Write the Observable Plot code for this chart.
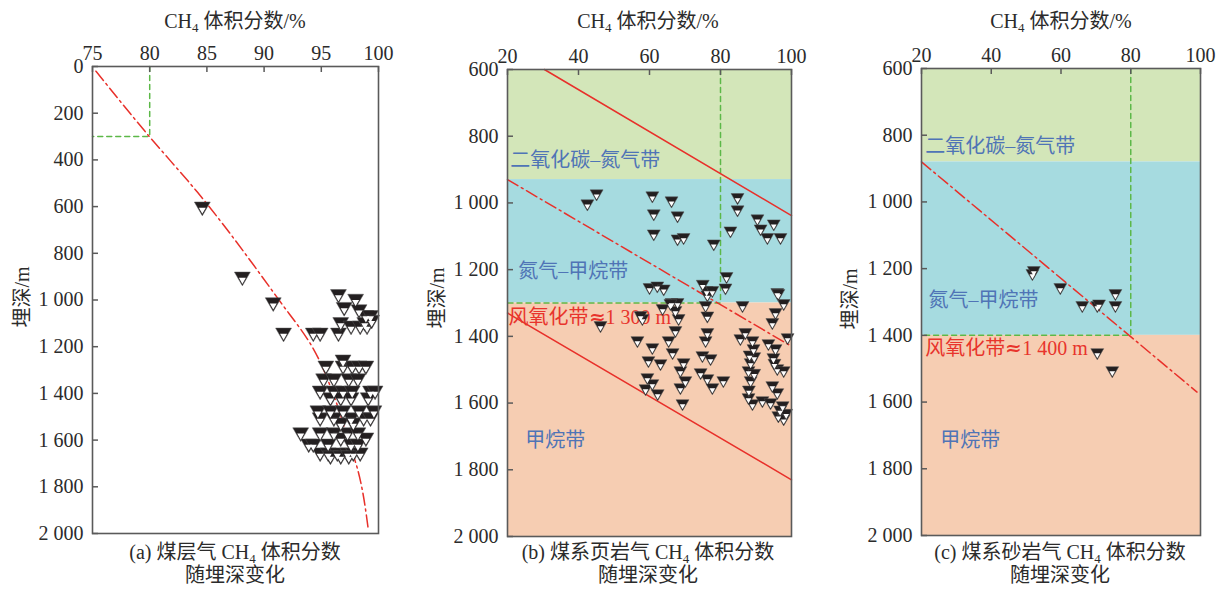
<!DOCTYPE html>
<html><head><meta charset="utf-8">
<script src="https://cdn.jsdelivr.net/npm/d3@7"></script>
<script src="https://cdn.jsdelivr.net/npm/@observablehq/plot@0.6"></script>
<style>
@font-face{font-family:"ApproxGlyph";src:local("DejaVu Sans"),local("DejaVuSans");unicode-range:U+2248;}
body{margin:0;background:#fff;}
#wrap{position:relative;width:1221px;height:590px;font-family:"Liberation Serif","Noto Sans CJK SC",serif;color:#2b2b2b;}
.p{position:absolute;top:0;}
.lab{position:absolute;font-size:20px;white-space:nowrap;transform:translateX(-50%);text-align:center;line-height:23px;}
.ylab{position:absolute;font-size:20px;white-space:nowrap;transform:translate(-50%,-50%) rotate(-90deg);}
sub{font-size:13px;vertical-align:-4px;line-height:0;}
</style></head>
<body><div id="wrap"></div>
<script>
// ---------- DATA ----------
// (a) coal-bed gas
const coalCH4 = [84.6,88.1,90.8,91.7,94.3,94.9,96.5,96.5,98.0,97.0,98.3,98.9,99.3,96.7,97.6,98.4,99.0,98.8,99.4,
  95.4,96.9,97.7,98.3,98.9,96.9,
  95.2,96.1,97.4,98.2,
  94.9,96.1,96.9,97.7,99.3,99.7,
  95.8,96.7,97.6,99.1,
  94.7,95.8,96.9,98.3,99.6,
  94.9,96.1,97.6,98.7,99.3,
  96.7,97.8,
  93.2,94.9,96.1,97.3,98.2,
  96.7,98.9,
  93.9,94.3,95.6,97.6,98.2,
  94.9,95.6,96.4,97.3,97.8,98.4,
  95.8,96.7,97.4];
const coalDepth = [600,900,1010,1140,1140,1140,1140,975,995,1030,1040,1065,1065,1095,1110,1110,1110,1095,1085,
  1281,1281,1281,1281,1281,1255,
  1336,1336,1336,1336,
  1388,1388,1388,1388,1388,1388,
  1417,1417,1417,1417,
  1473,1473,1473,1473,1473,
  1503,1503,1503,1503,1503,
  1525,1525,
  1567,1567,1567,1567,1567,
  1589,1589,
  1615,1615,1615,1615,1615,
  1653,1653,1653,1653,1653,1653,
  1666,1666,1666];
const coalTrendCH4 = [75.3,79.8,84.2,91.3,94.2,96.1,97.3,98.2,99.1];
const coalTrendDepth = [20,290,540,1000,1200,1410,1590,1730,1980];

// (b) coal-measure shale gas
const shaleCH4 = [42.5,45.1,60.8,61.2,61.2,66.2,67.9,67.9,69.6,78.1,84.8,84.8,82.8,90.4,91.3,93.2,95,96.9,
  81.7,81.4,60,62.2,64,75,76.1,77.7,96,
  66.2,67.9,76.3,86.2,97.8,
  65.9,63.7,67.3,68.2,58,67.3,56.6,60.8,65.4,66.5,59.7,63.1,69.6,68.7,59.4,60.8,58.9,62.3,70.1,68.7,69.3,
  76.3,75.8,74.9,77.2,74.4,76.3,77.7,80.8,76.3,75.8,
  85.6,87,89,89.3,88.5,87.9,88.5,87.9,89,91.8,94.1,
  93.5,95.5,94.9,96,97.8,94.6,96,97.5,96.3,97.8,98.9,94.6,95.5,96.3,
  46.2,57.5,89.5,88.2,95.2,96.8,98.5,89.5,88];
const shaleDepth = [1002,972,978,1032,1092,993,1038,1107,1103,1122,983,1020,1083,1047,1077,1103,1062,1103,
  1220,1254,1253,1248,1257,1243,1262,1262,1268,
  1298,1298,1275,1307,1301,
  1301,1316,1322,1346,1346,1382,1412,1433,1412,1448,1472,1481,1478,1502,1523,1541,1556,1571,1532,1553,1601,
  1388,1412,1457,1466,1508,1526,1553,1532,1338,1307,
  1406,1388,1412,1436,1478,1502,1532,1583,1601,1592,1598,
  1421,1436,1463,1496,1502,1547,1568,1607,1637,1646,1403,1358,1328,1271,
  1367,1337,1460,1455,1480,1620,1630,1510,1560];

// (c) coal-measure sandstone gas
const sandCH4 = [51.8,52.2,59.8,66.1,70.4,70.9,75.6,75.6,70.4,74.7];
const sandDepth = [1214,1205,1256,1310,1310,1305,1274,1310,1451,1505];

// zone boundaries (depth, m)
const zoneNames = ["二氧化碳–氮气带","氮气–甲烷带","甲烷带"];
const zoneColors = ["#d3e6b9","#a6dbe0","#f6cdb2"];
const shaleZoneTop = [600,930,1300];
const shaleZoneBottom = [930,1300,2000];
const sandZoneTop = [600,880,1400];
const sandZoneBottom = [880,1400,2000];

// reference lines (b)
const shaleUpperLine = {x:[30.4,100], y:[600,1038]};
const shaleLowerLine = {x:[20,100], y:[1330,1830]};
const shaleTrend = {x:[20,100], y:[930,1430]};
// reference lines (c)
const sandTrend = {x:[20,99], y:[880,1570]};

// ticks
const xTicksA = [75,80,85,90,95,100];
const yTicksA = [0,200,400,600,800,1000,1200,1400,1600,1800,2000];
const xTicksBC = [20,40,60,80,100];
const yTicksBC = [600,800,1000,1200,1400,1600,1800,2000];

// annotations
const shaleLabels = [
  {t:"二氧化碳–氮气带", x:20.8, y:873, c:"#4f74b6"},
  {t:"氮气–甲烷带", x:23, y:1207, c:"#4f74b6"},
  {t:"风氧化带≈1 300 m", x:20.3, y:1344, c:"#e8342c"},
  {t:"甲烷带", x:25, y:1713, c:"#4f74b6"}];
const sandLabels = [
  {t:"二氧化碳–氮气带", x:21.1, y:835, c:"#4f74b6"},
  {t:"氮气–甲烷带", x:22, y:1295, c:"#4f74b6"},
  {t:"风氧化带≈1 400 m", x:21.1, y:1439, c:"#e8342c"},
  {t:"甲烷带", x:25.4, y:1715, c:"#4f74b6"}];

// ---------- helpers ----------
const FONT = '"Liberation Serif","Noto Sans CJK SC",serif';
const LFONT = '"ApproxGlyph","Liberation Serif","Noto Sans CJK SC",serif';
const RED = "#e8302a", GREEN = "#5cb848", INK = "#231f20", FRAME = "#5a5a5a", TXT = "#2b2b2b";
const invTri = {draw(ctx, size){ const y = Math.sqrt(size/(Math.sqrt(3)*3)), s3 = Math.sqrt(3);
  ctx.moveTo(0, 2*y); ctx.lineTo(-s3*y, -y); ctx.lineTo(s3*y, -y); ctx.closePath(); }};
const fmtDepth = d => d >= 1000 ? `${Math.floor(d/1000)} ${String(d%1000).padStart(3,"0")}` : String(d);
const pts = (xs, ys) => xs.map((x,i)=>({x, y: ys[i]}));
const seg = o => o.x.map((x,i)=>({x, y:o.y[i]}));

function panel({left, width, mL, mR, mT, mB, xDomain, yDomain, xTicks, yTicks, marks, r, ri, rdy}) {
  const height = 590, pw = width - mL - mR, ph = height - mT - mB;
  const data = marks.points;
  const plot = Plot.plot({
    width, height, marginLeft: mL, marginRight: mR, marginTop: mT, marginBottom: mB,
    style: {fontFamily: FONT, background: "transparent", overflow: "visible"},
    x: {domain: xDomain}, y: {domain: yDomain, reverse: true},
    marks: [
      ...(marks.under || []),
      Plot.dot(data, {x:"x", y:"y", symbol: invTri, r, fill: INK, stroke: "#555", strokeWidth: 0.5}),
      Plot.dot(data, {x:"x", y:"y", symbol: invTri, r: ri, dy: rdy, fill: "#fff", stroke: "none"}),
      Plot.tickY(yTicks, {y: d=>d, stroke: FRAME, strokeWidth: 1.5, insetRight: pw - 6}),
      Plot.tickX(xTicks, {x: d=>d, stroke: FRAME, strokeWidth: 1.5, insetBottom: ph - 6}),
      Plot.frame({stroke: FRAME, strokeWidth: 1.6}),
      Plot.axisX(xTicks, {anchor: "top", tickSize: 0, tickPadding: 7, fontSize: 20, fill: TXT, label: null}),
      Plot.axisY(yTicks, {anchor: "left", tickSize: 0, tickPadding: 9, fontSize: 20, fill: TXT, label: null, tickFormat: fmtDepth})
    ]
  });
  plot.classList.add("p");
  plot.style.left = left + "px";
  return plot;
}

const wrap = document.getElementById("wrap");
const dd = "5,4", dashDot = "12,4,2,4";

// (a)
wrap.append(panel({left:0, width:400, mL:92, mR:22, mT:66, mB:57, xDomain:[75,100], yDomain:[0,2000],
  xTicks:xTicksA, yTicks:yTicksA, r:5.9, ri:2.6, rdy:3.2,
  marks:{points: pts(coalCH4, coalDepth),
    under:[
      Plot.line([{x:80,y:0},{x:80,y:300},{x:75,y:300}], {x:"x", y:"y", stroke: GREEN, strokeWidth:1.5, strokeDasharray: dd}),
      Plot.line(pts(coalTrendCH4, coalTrendDepth), {x:"x", y:"y", stroke: RED, strokeWidth:1.5, strokeDasharray: dashDot, curve:"monotone-y"})
    ]}}));

function zoneMarks(tops, bottoms, dom) {
  return Plot.rect(zoneNames.map((n,i)=>({n, y1: tops[i], y2: bottoms[i], c: zoneColors[i]})),
    {x1: ()=>dom[0], x2: ()=>dom[1], y1:"y1", y2:"y2", fill:"c"});
}
function labelMarks(lbls) {
  return Plot.text(lbls, {x:"x", y:"y", text:"t", fill:"c", textAnchor:"start", lineAnchor:"middle", fontSize:20, fontFamily: LFONT});
}

// (b)
wrap.append(panel({left:400, width:420, mL:107, mR:29, mT:69, mB:54, xDomain:[20,100], yDomain:[600,2000],
  xTicks:xTicksBC, yTicks:yTicksBC, r:4.8, ri:2.1, rdy:2.6,
  marks:{points: pts(shaleCH4, shaleDepth),
    under:[
      zoneMarks(shaleZoneTop, shaleZoneBottom, [20,100]),
      Plot.line([{x:80,y:600},{x:80,y:1300},{x:20,y:1300}], {x:"x", y:"y", stroke: GREEN, strokeWidth:1.5, strokeDasharray: dd}),
      Plot.line(seg(shaleUpperLine), {x:"x", y:"y", stroke: RED, strokeWidth:1.5}),
      Plot.line(seg(shaleLowerLine), {x:"x", y:"y", stroke: RED, strokeWidth:1.5}),
      Plot.line(seg(shaleTrend), {x:"x", y:"y", stroke: RED, strokeWidth:1.5, strokeDasharray: dashDot}),
      labelMarks(shaleLabels)
    ]}}));

// (c)
wrap.append(panel({left:820, width:401, mL:101, mR:21, mT:68, mB:55, xDomain:[20,100], yDomain:[600,2000],
  xTicks:xTicksBC, yTicks:yTicksBC, r:4.8, ri:2.1, rdy:2.6,
  marks:{points: pts(sandCH4, sandDepth),
    under:[
      zoneMarks(sandZoneTop, sandZoneBottom, [20,100]),
      Plot.line([{x:80,y:600},{x:80,y:1400},{x:20,y:1400}], {x:"x", y:"y", stroke: GREEN, strokeWidth:1.5, strokeDasharray: dd}),
      Plot.line(seg(sandTrend), {x:"x", y:"y", stroke: RED, strokeWidth:1.5, strokeDasharray: dashDot}),
      labelMarks(sandLabels)
    ]}}));

// HTML labels
const topLabels = [235, 648, 1061];
const yLabels = [[20,297],[435,298],[848,299]];
const captions = ["(a) 煤层气 CH<sub>4</sub> 体积分数","(b) 煤系页岩气 CH<sub>4</sub> 体积分数","(c) 煤系砂岩气 CH<sub>4</sub> 体积分数"];
const captionX = [235, 648, 1060];
topLabels.forEach(cx => {
  const d = document.createElement("div"); d.className = "lab"; d.style.left = cx+"px"; d.style.top = "10px";
  d.innerHTML = "CH<sub>4</sub> 体积分数/%"; wrap.append(d);
});
yLabels.forEach(([cx,cy]) => {
  const d = document.createElement("div"); d.className = "ylab"; d.style.left = cx+"px"; d.style.top = cy+"px";
  d.textContent = "埋深/m"; wrap.append(d);
});
captions.forEach((c,i) => {
  const d = document.createElement("div"); d.className = "lab"; d.style.left = captionX[i]+"px"; d.style.top = "541px";
  d.innerHTML = c + "<br>随埋深变化"; wrap.append(d);
});
</script>
</body></html>
